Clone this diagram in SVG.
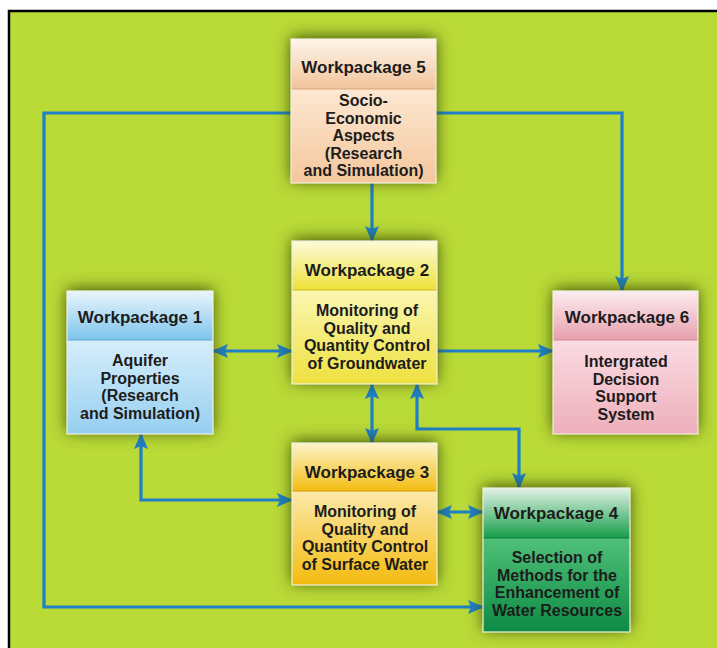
<svg xmlns="http://www.w3.org/2000/svg" width="717" height="648" viewBox="0 0 717 648">
<defs>
<style>
.box{stroke:#f2f0e0;stroke-width:1.2}
.div{stroke-width:1.2}
.t{font-family:"Liberation Sans",Arial,sans-serif;font-weight:bold;fill:#1c1c1c;text-anchor:middle}
.h{font-size:17px}
.b{font-size:16px}
.c{fill:none;stroke:#1f7fc8;stroke-width:3.2}
</style>
<filter id="sh" x="-30%" y="-30%" width="160%" height="160%">
<feDropShadow dx="0" dy="-2" stdDeviation="8" flood-color="#334006" flood-opacity="0.9"/>
</filter>
<marker id="ah" viewBox="0 0 16 14" refX="15" refY="7" markerWidth="16" markerHeight="14" markerUnits="userSpaceOnUse" orient="auto-start-reverse">
<path d="M0,0 L16,7 L0,14 L3,7 z" fill="#1f7fc8"/>
</marker>
<linearGradient id="h5" x1="0" y1="0" x2="0" y2="1"><stop offset="0" stop-color="#fef5ea"/><stop offset="1" stop-color="#f2c49b"/></linearGradient>
<linearGradient id="b5" x1="0" y1="0" x2="0" y2="1"><stop offset="0" stop-color="#fde8d2"/><stop offset="1" stop-color="#f4c69c"/></linearGradient>
<linearGradient id="h1" x1="0" y1="0" x2="0" y2="1"><stop offset="0" stop-color="#eaf6fd"/><stop offset="1" stop-color="#7dc3ec"/></linearGradient>
<linearGradient id="b1" x1="0" y1="0" x2="0" y2="1"><stop offset="0" stop-color="#d6eefb"/><stop offset="1" stop-color="#96cff0"/></linearGradient>
<linearGradient id="h2" x1="0" y1="0" x2="0" y2="1"><stop offset="0" stop-color="#fdfbda"/><stop offset="1" stop-color="#eee23a"/></linearGradient>
<linearGradient id="b2" x1="0" y1="0" x2="0" y2="1"><stop offset="0" stop-color="#fbf6b2"/><stop offset="1" stop-color="#eee13e"/></linearGradient>
<linearGradient id="h3" x1="0" y1="0" x2="0" y2="1"><stop offset="0" stop-color="#fdf4cc"/><stop offset="1" stop-color="#f3bd12"/></linearGradient>
<linearGradient id="b3" x1="0" y1="0" x2="0" y2="1"><stop offset="0" stop-color="#fce9aa"/><stop offset="1" stop-color="#f4bb0e"/></linearGradient>
<linearGradient id="h4" x1="0" y1="0" x2="0" y2="1"><stop offset="0" stop-color="#e2f2e6"/><stop offset="1" stop-color="#169e4a"/></linearGradient>
<linearGradient id="b4" x1="0" y1="0" x2="0" y2="1"><stop offset="0" stop-color="#50c079"/><stop offset="1" stop-color="#0d8b44"/></linearGradient>
<linearGradient id="h6" x1="0" y1="0" x2="0" y2="1"><stop offset="0" stop-color="#fdeef1"/><stop offset="1" stop-color="#e79fad"/></linearGradient>
<linearGradient id="b6" x1="0" y1="0" x2="0" y2="1"><stop offset="0" stop-color="#fbdbe2"/><stop offset="1" stop-color="#edafbb"/></linearGradient>
</defs>
<rect x="0" y="0" width="717" height="648" fill="#ffffff"/>
<rect x="9" y="11" width="720" height="650" fill="#badA37" stroke="#000" stroke-width="2.5"/>

<g id="connectors">
<path class="c" d="M372,183 V241" marker-end="url(#ah)"/>
<path class="c" d="M436,113 H622 V291" marker-end="url(#ah)"/>
<path class="c" d="M291,113 H44 V607 H483" marker-end="url(#ah)"/>
<path class="c" d="M213,351 H292" marker-start="url(#ah)" marker-end="url(#ah)"/>
<path class="c" d="M437,351 H553" marker-end="url(#ah)"/>
<path class="c" d="M372,384 V443" marker-start="url(#ah)" marker-end="url(#ah)"/>
<path class="c" d="M417,384 V429 H519 V488" marker-start="url(#ah)" marker-end="url(#ah)"/>
<path class="c" d="M141,434 V500 H292" marker-start="url(#ah)" marker-end="url(#ah)"/>
<path class="c" d="M437,512 H483" marker-start="url(#ah)" marker-end="url(#ah)"/>
</g>

<g id="wp5">
<rect x="291" y="39" width="145" height="144" fill="#f4c69c" filter="url(#sh)"/>
<rect x="291" y="39" width="145" height="50" fill="url(#h5)"/>
<rect x="291" y="89" width="145" height="94" fill="url(#b5)"/>
<line x1="291" y1="89" x2="436" y2="89" stroke="#d9a578" class="div"/>
<rect class="box" x="291" y="39" width="145" height="144" fill="none"/>
<text class="t h" x="363.5" y="73">Workpackage 5</text>
<text class="t b" x="363.5" y="106">Socio-</text>
<text class="t b" x="363.5" y="123.5">Economic</text>
<text class="t b" x="363.5" y="141">Aspects</text>
<text class="t b" x="363.5" y="158.5">(Research</text>
<text class="t b" x="363.5" y="176">and Simulation)</text>
</g>

<g id="wp1">
<rect x="67" y="291" width="146" height="143" fill="#96cff0" filter="url(#sh)"/>
<rect x="67" y="291" width="146" height="49" fill="url(#h1)"/>
<rect x="67" y="340" width="146" height="94" fill="url(#b1)"/>
<line x1="67" y1="340" x2="213" y2="340" stroke="#5fa9d6" class="div"/>
<rect class="box" x="67" y="291" width="146" height="143" fill="none"/>
<text class="t h" x="140" y="323">Workpackage 1</text>
<text class="t b" x="140" y="366">Aquifer</text>
<text class="t b" x="140" y="383.5">Properties</text>
<text class="t b" x="140" y="401">(Research</text>
<text class="t b" x="140" y="418.5">and Simulation)</text>
</g>

<g id="wp2">
<rect x="292" y="241" width="145" height="143" fill="#eee13e" filter="url(#sh)"/>
<rect x="292" y="241" width="145" height="49" fill="url(#h2)"/>
<rect x="292" y="290" width="145" height="94" fill="url(#b2)"/>
<line x1="292" y1="290" x2="437" y2="290" stroke="#c9bd20" class="div"/>
<rect class="box" x="292" y="241" width="145" height="143" fill="none"/>
<text class="t h" x="367" y="276">Workpackage 2</text>
<text class="t b" x="367" y="316">Monitoring of</text>
<text class="t b" x="367" y="333.5">Quality and</text>
<text class="t b" x="367" y="351">Quantity Control</text>
<text class="t b" x="367" y="368.5">of Groundwater</text>
</g>

<g id="wp6">
<rect x="553" y="291" width="145" height="143" fill="#edafbb" filter="url(#sh)"/>
<rect x="553" y="291" width="145" height="49" fill="url(#h6)"/>
<rect x="553" y="340" width="145" height="94" fill="url(#b6)"/>
<line x1="553" y1="340" x2="698" y2="340" stroke="#cf8797" class="div"/>
<rect class="box" x="553" y="291" width="145" height="143" fill="none"/>
<text class="t h" x="627" y="323">Workpackage 6</text>
<text class="t b" x="626" y="367">Intergrated</text>
<text class="t b" x="626" y="384.5">Decision</text>
<text class="t b" x="626" y="402">Support</text>
<text class="t b" x="626" y="419.5">System</text>
</g>

<g id="wp3">
<rect x="292" y="443" width="145" height="142" fill="#f4bb0e" filter="url(#sh)"/>
<rect x="292" y="443" width="145" height="48" fill="url(#h3)"/>
<rect x="292" y="491" width="145" height="94" fill="url(#b3)"/>
<line x1="292" y1="491" x2="437" y2="491" stroke="#d49a00" class="div"/>
<rect class="box" x="292" y="443" width="145" height="142" fill="none"/>
<text class="t h" x="367" y="478">Workpackage 3</text>
<text class="t b" x="365" y="517">Monitoring of</text>
<text class="t b" x="365" y="534.5">Quality and</text>
<text class="t b" x="365" y="552">Quantity Control</text>
<text class="t b" x="365" y="569.5">of Surface Water</text>
</g>

<g id="wp4">
<rect x="483" y="488" width="147" height="144" fill="#0d8b44" filter="url(#sh)"/>
<rect x="483" y="488" width="147" height="50" fill="url(#h4)"/>
<rect x="483" y="538" width="147" height="94" fill="url(#b4)"/>
<line x1="483" y1="538" x2="630" y2="538" stroke="#0a7a3a" class="div"/>
<rect class="box" x="483" y="488" width="147" height="144" fill="none"/>
<text class="t h" x="556" y="519">Workpackage 4</text>
<text class="t b" x="557" y="563">Selection of</text>
<text class="t b" x="557" y="580.5">Methods for the</text>
<text class="t b" x="557" y="598">Enhancement of</text>
<text class="t b" x="557" y="615.5">Water Resources</text>
</g>
</svg>
